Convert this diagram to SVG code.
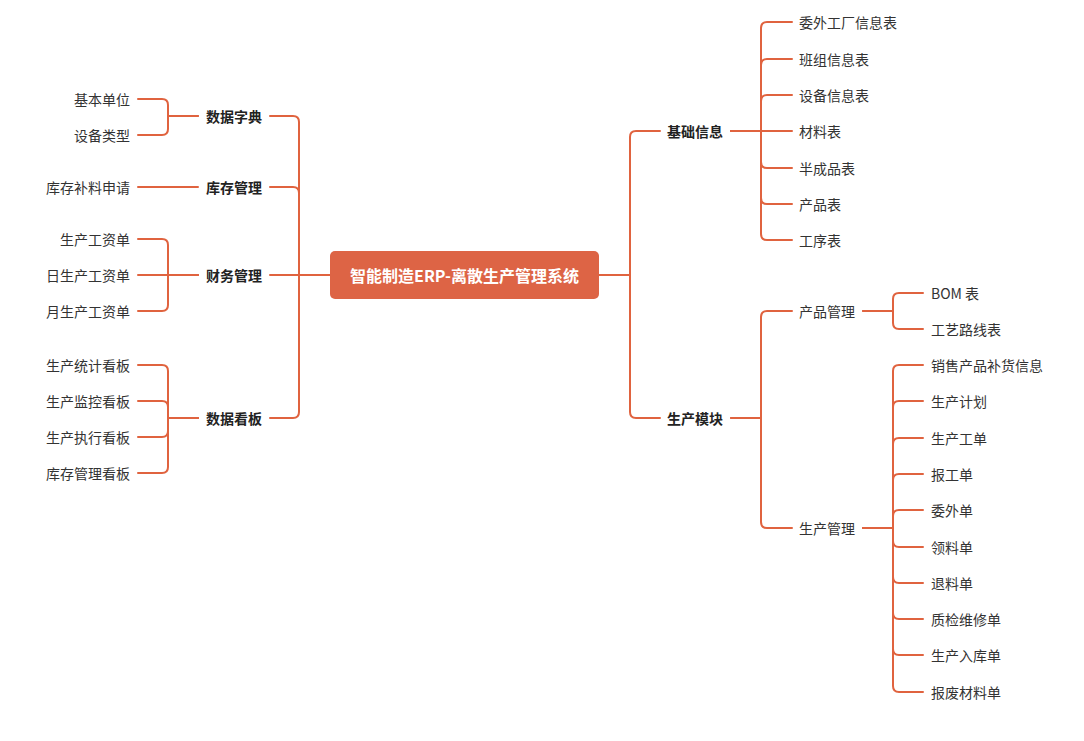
<svg xmlns="http://www.w3.org/2000/svg" width="1084" height="741" viewBox="0 0 1084 741">
<style>
.c{fill:none;stroke:#E0633F;stroke-width:2;stroke-linecap:round;stroke-linejoin:round}
text{font-family:"Noto Sans CJK SC","Noto Sans",sans-serif;font-size:14px;fill:#333;dominant-baseline:central}
.b{font-weight:bold;fill:#222}
.r{text-anchor:end}
.root{fill:#fff;font-weight:bold;font-size:16px;text-anchor:middle}
</style>
<rect width="1084" height="741" fill="#fff"/>
<g id="connectors" class="c">
<path d="M330 275H299V122Q299 116 293 116H270"/>
<path d="M330 275H299V193Q299 187 293 187H270"/>
<path d="M330 275H270"/>
<path d="M330 275H299V412Q299 418 293 418H270"/>
<path d="M198 116H168V105Q168 99 162 99H138"/>
<path d="M198 116H168V129Q168 135 162 135H138"/>
<path d="M198 187H138"/>
<path d="M198 275H168V245Q168 239 162 239H138"/>
<path d="M198 275H138"/>
<path d="M198 275H168V305Q168 311 162 311H138"/>
<path d="M198 418H168V371Q168 365 162 365H138"/>
<path d="M198 418H168V407Q168 401 162 401H138"/>
<path d="M198 418H168V431Q168 437 162 437H138"/>
<path d="M198 418H168V467Q168 473 162 473H138"/>
<path d="M599 275H630V137Q630 131 636 131H660"/>
<path d="M599 275H630V412Q630 418 636 418H660"/>
<path d="M731 131H761V28Q761 22 767 22H792"/>
<path d="M731 131H761V65Q761 59 767 59H792"/>
<path d="M731 131H761V101Q761 95 767 95H792"/>
<path d="M731 131H792"/>
<path d="M731 131H761V162Q761 168 767 168H792"/>
<path d="M731 131H761V198Q761 204 767 204H792"/>
<path d="M731 131H761V234Q761 240 767 240H792"/>
<path d="M731 418H761V317Q761 311 767 311H792"/>
<path d="M731 418H761V522Q761 528 767 528H792"/>
<path d="M863 311H893V299Q893 293 899 293H923"/>
<path d="M863 311H893V323Q893 329 899 329H923"/>
<path d="M863 528H893V371Q893 365 899 365H923"/>
<path d="M863 528H893V407Q893 401 899 401H923"/>
<path d="M863 528H893V444Q893 438 899 438H923"/>
<path d="M863 528H893V480Q893 474 899 474H923"/>
<path d="M863 528H893V516Q893 510 899 510H923"/>
<path d="M863 528H893V541Q893 547 899 547H923"/>
<path d="M863 528H893V577Q893 583 899 583H923"/>
<path d="M863 528H893V613Q893 619 899 619H923"/>
<path d="M863 528H893V649Q893 655 899 655H923"/>
<path d="M863 528H893V686Q893 692 899 692H923"/>
</g>
<g id="root"><rect x="330" y="251" width="269" height="48" rx="5" fill="#DD6445"/><text class="root" x="464.5" y="275">智能制造ERP-离散生产管理系统</text></g>
<g id="n-sjzd"><text class="b r" x="262" y="116">数据字典</text></g>
<g id="n-kcgl"><text class="b r" x="262" y="187">库存管理</text></g>
<g id="n-cwgl"><text class="b r" x="262" y="275">财务管理</text></g>
<g id="n-sjkb"><text class="b r" x="262" y="418">数据看板</text></g>
<g id="n-jbdw"><text class="r" x="130" y="99">基本单位</text></g>
<g id="n-sblx"><text class="r" x="130" y="135">设备类型</text></g>
<g id="n-kcbl"><text class="r" x="130" y="187">库存补料申请</text></g>
<g id="n-scgzd"><text class="r" x="130" y="239">生产工资单</text></g>
<g id="n-rsc"><text class="r" x="130" y="275">日生产工资单</text></g>
<g id="n-ysc"><text class="r" x="130" y="311">月生产工资单</text></g>
<g id="n-sctj"><text class="r" x="130" y="365">生产统计看板</text></g>
<g id="n-scjk"><text class="r" x="130" y="401">生产监控看板</text></g>
<g id="n-sczx"><text class="r" x="130" y="437">生产执行看板</text></g>
<g id="n-kcglkb"><text class="r" x="130" y="473">库存管理看板</text></g>
<g id="n-jcxx"><text class="b" x="667" y="131">基础信息</text></g>
<g id="n-scmk"><text class="b" x="667" y="418">生产模块</text></g>
<g id="n-wwgc"><text x="799" y="22">委外工厂信息表</text></g>
<g id="n-bz"><text x="799" y="59">班组信息表</text></g>
<g id="n-sb"><text x="799" y="95">设备信息表</text></g>
<g id="n-cl"><text x="799" y="131">材料表</text></g>
<g id="n-bcp"><text x="799" y="168">半成品表</text></g>
<g id="n-cp"><text x="799" y="204">产品表</text></g>
<g id="n-gx"><text x="799" y="240">工序表</text></g>
<g id="n-cpgl"><text x="799" y="311">产品管理</text></g>
<g id="n-scgl"><text x="799" y="528">生产管理</text></g>
<g id="n-bom"><text x="931" y="293">BOM 表</text></g>
<g id="n-gylx"><text x="931" y="329">工艺路线表</text></g>
<g id="n-xs"><text x="931" y="365">销售产品补货信息</text></g>
<g id="n-scjh"><text x="931" y="401">生产计划</text></g>
<g id="n-scgd"><text x="931" y="438">生产工单</text></g>
<g id="n-bgd"><text x="931" y="474">报工单</text></g>
<g id="n-wwd"><text x="931" y="510">委外单</text></g>
<g id="n-lld"><text x="931" y="547">领料单</text></g>
<g id="n-tld"><text x="931" y="583">退料单</text></g>
<g id="n-zj"><text x="931" y="619">质检维修单</text></g>
<g id="n-scrk"><text x="931" y="655">生产入库单</text></g>
<g id="n-bf"><text x="931" y="692">报废材料单</text></g>
</svg>
